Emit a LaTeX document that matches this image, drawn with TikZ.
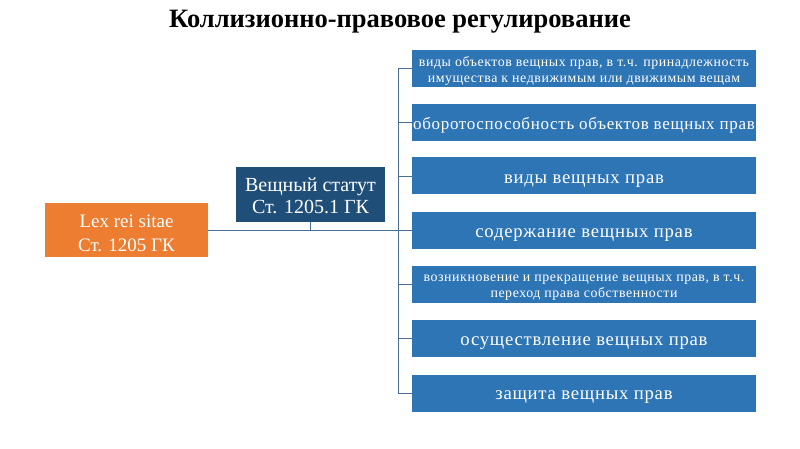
\documentclass[tikz,border=0pt]{standalone}
\usepackage{fontspec}
\setmainfont{Liberation Serif}
\newfontfamily\boxfont[LetterSpace=4]{Liberation Serif}
\definecolor{bluebox}{HTML}{2E75B6}
\definecolor{darkbox}{HTML}{1F4E79}
\definecolor{orangebox}{HTML}{ED7D31}
\definecolor{linec}{HTML}{4A6F96}
\begin{document}
\begin{tikzpicture}[x=1pt,y=-1pt,
  item/.style={fill=bluebox,minimum width=344pt,minimum height=37pt,inner sep=0pt,text=white,align=center,font=\boxfont\fontsize{18.7}{20}\selectfont,text height=15pt,text depth=0pt},
  smallitem/.style={fill=bluebox,minimum width=344pt,minimum height=37pt,inner sep=0pt,text=white,align=center,font=\boxfont\fontsize{13.9}{16.2}\selectfont,text depth=0pt},
  conn/.style={draw=linec,line width=0.8pt}]
\useasboundingbox (0,0) rectangle (800,449);
\node[anchor=base,inner sep=0pt,font=\bfseries\fontsize{26.5}{30}\selectfont] (title) at (400,28) {Коллизионно-правовое регулирование};
\node[fill=orangebox,minimum width=163pt,minimum height=54pt,inner sep=0pt,text=white,align=center,font=\fontsize{19}{24}\selectfont,text height=42pt,text depth=0pt] (lex) at (126.5,230) {Lex rei sitae\\Ст. 1205 ГК};
\node[fill=darkbox,minimum width=149pt,minimum height=55pt,inner sep=0pt,text=white,align=center,font=\fontsize{20}{21.6}\selectfont,text height=37.6pt,text depth=0pt] (stat) at (310.5,194.5) {Вещный статут\\Ст. 1205.1 ГК};
\node[smallitem,text height=28.8pt] (b1) at (584,68.3) {виды объектов вещных прав, в т.ч. принадлежность\\имущества к недвижимым или движимым вещам};
\node[item,font=\boxfont\fontsize{17}{19}\selectfont] (b2) at (584,122.5) {оборотоспособность объектов вещных прав};
\node[item,text height=16pt] (b3) at (584,176) {виды вещных прав};
\node[item] (b4) at (584,230) {содержание вещных прав};
\node[smallitem,text height=25.6pt] (b5) at (584,284.5) {возникновение и прекращение вещных прав, в т.ч.\\переход права собственности};
\node[item,text height=14pt] (b6) at (584,338.5) {осуществление вещных прав};
\node[item,text height=13.5pt] (b7) at (584,393) {защита вещных прав};
\coordinate (trunk) at (398,230);
\coordinate (top) at (398,68.3);
\coordinate (bot) at (398,393);
\draw[conn] (top) -- (bot);
\draw[conn] (lex.east) -- (b4.west);
\draw[conn] (stat.south) -- (stat.south |- lex.east);
\foreach \b in {b1,b2,b3,b5,b6,b7} \draw[conn] (\b.west) -- (\b.west -| trunk);
\end{tikzpicture}
\end{document}
